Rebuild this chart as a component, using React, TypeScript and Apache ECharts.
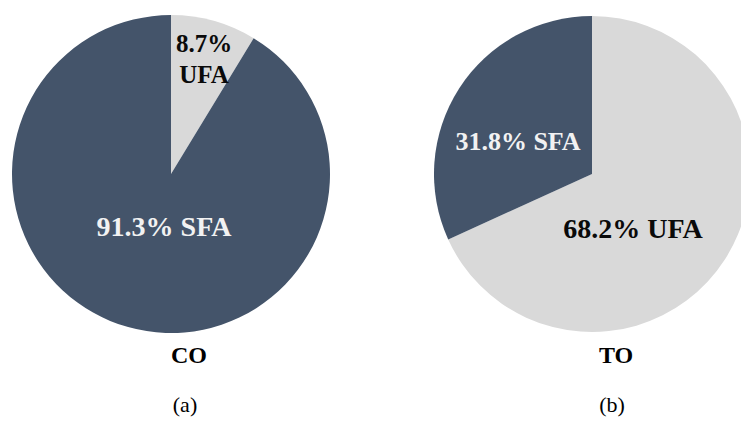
import React, { useEffect, useRef } from "react";
import * as echarts from "echarts";

const categories = ["UFA", "SFA"];
const coValues = [8.7, 91.3];
const toValues = [68.2, 31.8];
const pieNames = ["CO", "TO"];
const captions = ["(a)", "(b)"];
const sliceColors = ["#D9D9D9", "#44546A"];
const labelColors = ["#0a0a0a", "#F2F2F2"];

const FONT = "'Liberation Serif', 'Times New Roman', serif";

// label centers [x, y] and font sizes per series / data index
const labelPos = [
  [[204, 59], [164, 226]],
  [[633, 228], [518, 141]],
];
const labelSize = [
  [25, 28],
  [28, 26],
];
const labelSep = [
  ["\n", " "],
  [" ", " "],
];

const centers = [[171, 174], [592, 174]];
const radii = [159, 158];

export default function App() {
  const ref = useRef<HTMLDivElement>(null);
  useEffect(() => {
    if (!ref.current) return;
    const chart = echarts.init(ref.current, undefined, { renderer: "svg" });
    const valueSets = [coValues, toValues];
    const series = valueSets.map((vals, si) => ({
      type: "pie",
      center: centers[si],
      radius: radii[si],
      startAngle: 90,
      clockwise: true,
      silent: true,
      avoidLabelOverlap: false,
      labelLine: { show: false },
      emphasis: { disabled: true },
      itemStyle: { borderWidth: 0 },
      data: vals.map((v, di) => ({
        name: categories[di],
        value: v,
        itemStyle: { color: sliceColors[di] },
        label: {
          show: true,
          position: "inside",
          color: labelColors[di],
          fontFamily: FONT,
          fontWeight: "bold",
          fontSize: labelSize[si][di],
          lineHeight: 31,
          align: "center",
          formatter: () => `${v}%${labelSep[si][di]}${categories[di]}`,
        },
      })),
      labelLayout: (p: any) => ({
        x: labelPos[si][p.dataIndex][0],
        y: labelPos[si][p.dataIndex][1],
        align: "center",
        verticalAlign: "middle",
      }),
    }));
    const titleX = [189, 616];
    const graphic: any[] = [];
    pieNames.forEach((n, i) => {
      graphic.push({
        type: "text",
        x: titleX[i],
        y: 355,
        style: {
          text: n,
          fontFamily: FONT,
          fontWeight: "bold",
          fontSize: 24,
          fill: "#000",
          textAlign: "center",
          textVerticalAlign: "middle",
        },
      });
      graphic.push({
        type: "text",
        x: titleX[i] - 4,
        y: 404,
        style: {
          text: captions[i],
          fontFamily: FONT,
          fontSize: 22,
          fill: "#000",
          textAlign: "center",
          textVerticalAlign: "middle",
        },
      });
    });
    chart.setOption({
      animation: false,
      backgroundColor: "#ffffff",
      series,
      graphic,
    });
    return () => chart.dispose();
  }, []);
  return (
    <div
      ref={ref}
      style={{ position: "absolute", left: 0, top: 0, width: 741, height: 421 }}
    />
  );
}
